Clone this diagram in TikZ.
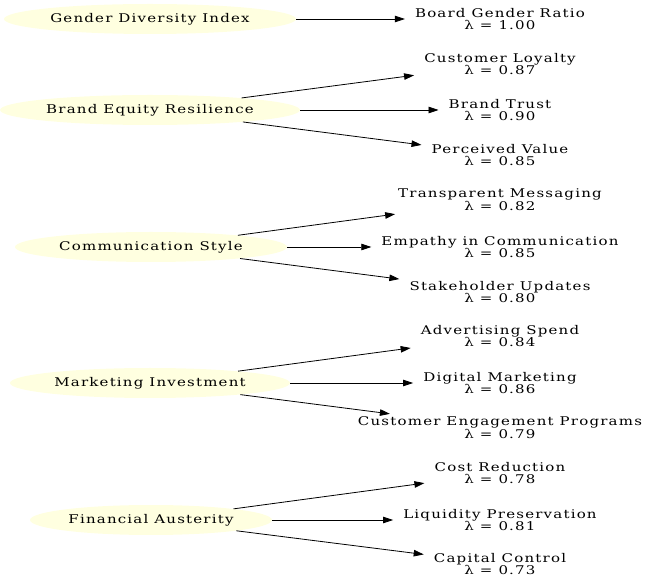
\documentclass[tikz,border=0pt]{standalone}
\usepackage{fontspec}
\setmainfont{DejaVu Serif}[FakeStretch=1.25, LetterSpace=10]
\usetikzlibrary{shapes.geometric, arrows.meta}
\usepackage{xcolor}
\definecolor{facFill}{RGB}{255, 255, 224}

\begin{document}
\begin{tikzpicture}[x=1pt, y=-1pt,
    fac/.style={ellipse, fill=facFill, inner sep=0pt, minimum height=30pt,
                font=\fontsize{12}{14}\selectfont},
    ind/.style={align=center, inner xsep=10pt, inner ysep=3pt,
                font=\fontsize{12}{11.5}\selectfont},
    arr/.style={-{Triangle[length=10pt, width=6.5pt]}, line width=0.8pt}]
  \useasboundingbox (0,0) rectangle (662,585);

  % latent factors
  \node[fac, minimum width=292pt] (gdi) at (150, 19)  {Gender Diversity Index};
  \node[fac, minimum width=300pt] (ber) at (150,110)  {Brand Equity Resilience};
  \node[fac, minimum width=272pt] (cs)  at (151,247)  {Communication Style};
  \node[fac, minimum width=280pt] (mi)  at (150,383)  {Marketing Investment};
  \node[fac, minimum width=242pt] (fa)  at (151,520)  {Financial Austerity};

  % indicators
  \node[ind] (bgr) at (500, 19) {Board Gender Ratio\\λ = 1.00};
  \node[ind] (cl)  at (500, 64) {Customer Loyalty\\λ = 0.87};
  \node[ind] (bt)  at (500,110) {Brand Trust\\λ = 0.90};
  \node[ind] (pv)  at (500,155) {Perceived Value\\λ = 0.85};
  \node[ind] (tm)  at (500,200) {Transparent Messaging\\λ = 0.82};
  \node[ind] (ec)  at (500,247) {Empathy in Communication\\λ = 0.85};
  \node[ind] (su)  at (500,292) {Stakeholder Updates\\λ = 0.80};
  \node[ind] (as)  at (500,336) {Advertising Spend\\λ = 0.84};
  \node[ind] (dm)  at (500,383) {Digital Marketing\\λ = 0.86};
  \node[ind] (cep) at (500,428) {Customer Engagement Programs\\λ = 0.79};
  \node[ind] (cr)  at (500,473) {Cost Reduction\\λ = 0.78};
  \node[ind] (lp)  at (500,520) {Liquidity Preservation\\λ = 0.81};
  \node[ind] (cc)  at (500,564) {Capital Control\\λ = 0.73};

  % loadings
  \draw[arr] (gdi) -- (bgr);
  \foreach \t in {cl, bt, pv} \draw[arr] (ber) -- (\t);
  \foreach \t in {tm, ec, su} \draw[arr] (cs) -- (\t);
  \foreach \t in {as, dm, cep} \draw[arr] (mi) -- (\t);
  \foreach \t in {cr, lp, cc} \draw[arr] (fa) -- (\t);
\end{tikzpicture}
\end{document}
